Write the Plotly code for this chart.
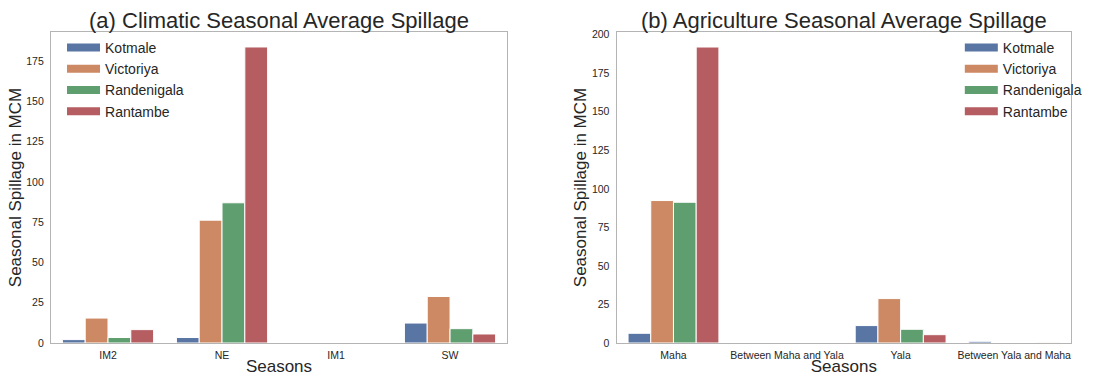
import plotly.graph_objects as go

# Reservoir stations and their bar colours
stations = ["Kotmale", "Victoriya", "Randenigala", "Rantambe"]
colors = ["#5975a4", "#cc8963", "#5f9e6e", "#b55d60"]

# (a) Climatic seasons, average spillage in MCM
climatic_seasons = ["IM2", "NE", "IM1", "SW"]
climatic_kotmale = [2.1, 3.4, 0.0, 12.4]
climatic_victoriya = [15.5, 76.3, 0.0, 28.9]
climatic_randenigala = [3.4, 87.1, 0.0, 8.9]
climatic_rantambe = [8.3, 183.9, 0.0, 5.6]

# (b) Agricultural seasons, average spillage in MCM
agri_seasons = ["Maha", "Between Maha and Yala", "Yala", "Between Yala and Maha"]
agri_kotmale = [6.3, 0.0, 11.3, 1.1]
agri_victoriya = [92.4, 0.0, 28.8, 0.0]
agri_randenigala = [91.3, 0.0, 8.9, 0.0]
agri_rantambe = [192.0, 0.0, 5.4, 0.4]

climatic_values = [climatic_kotmale, climatic_victoriya, climatic_randenigala, climatic_rantambe]
agri_values = [agri_kotmale, agri_victoriya, agri_randenigala, agri_rantambe]

FONT = "Liberation Sans, Arial, sans-serif"
TEXT = "#262626"
SPINE = "#b4b4b4"

fig = go.Figure()

for name, color, vals in zip(stations, colors, climatic_values):
    fig.add_trace(go.Bar(
        x=climatic_seasons, y=vals, name=name, marker_color=color,
        marker_line=dict(color="white", width=1),
        xaxis="x", yaxis="y", showlegend=False, offsetgroup=name,
    ))
for name, color, vals in zip(stations, colors, agri_values):
    fig.add_trace(go.Bar(
        x=agri_seasons, y=vals, name=name, marker_color=color,
        marker_line=dict(color="white", width=1),
        xaxis="x2", yaxis="y2", showlegend=False, offsetgroup=name,
    ))

# Legend entries drawn as wide, flat swatches
for legend_id in ("legend", "legend2"):
    for name, color in zip(stations, colors):
        fig.add_trace(go.Scatter(
            x=[None], y=[None], mode="lines", name=name,
            line=dict(color=color, width=8),
            xaxis="x" if legend_id == "legend" else "x2",
            yaxis="y" if legend_id == "legend" else "y2",
            legend=legend_id, hoverinfo="skip",
        ))

axis_common = dict(
    showline=True, mirror=True, linecolor=SPINE, linewidth=1.3,
    showgrid=False, zeroline=False, ticks="", automargin=False,
    tickfont=dict(family=FONT, size=10.5, color=TEXT),
)
title_font = dict(size=17, family=FONT, color=TEXT)
legend_common = dict(xanchor="left", yanchor="top", itemwidth=33,
                     font=dict(family=FONT, size=14, color=TEXT), bgcolor="rgba(0,0,0,0)")

fig.update_layout(
    template="none",
    width=1099, height=376,
    margin=dict(l=51, r=28, t=32, b=33),
    paper_bgcolor="white", plot_bgcolor="white",
    barmode="group", bargap=0.2, bargroupgap=0.0,
    font=dict(family=FONT, color=TEXT),
    xaxis=dict(domain=[0.0, 0.4471], range=[-0.5, 3.5], anchor="y",
               title=dict(text="Seasons", font=title_font, standoff=0),
               ticklabelstandoff=2, **axis_common),
    yaxis=dict(domain=[0, 1], range=[0, 193.2], anchor="x", tickvals=[0, 25, 50, 75, 100, 125, 150, 175],
               title=dict(text="Seasonal Spillage in MCM", font=title_font, standoff=0),
               ticklabelstandoff=4, **axis_common),
    xaxis2=dict(domain=[0.5546, 1.0], range=[-0.5, 3.5], anchor="y2",
                title=dict(text="Seasons", font=title_font, standoff=0),
                ticklabelstandoff=2, **axis_common),
    yaxis2=dict(domain=[0, 1], range=[0, 201.75], anchor="x2", tickvals=[0, 25, 50, 75, 100, 125, 150, 175, 200],
                title=dict(text="Seasonal Spillage in MCM", font=title_font, standoff=0),
                ticklabelstandoff=4, **axis_common),
    legend=dict(x=0.0108, y=1.0, **legend_common),
    legend2=dict(x=0.891, y=1.0, **legend_common),
    annotations=[
        dict(text="(a) Climatic Seasonal Average Spillage", xref="x domain", yref="paper",
             x=0.5, y=1.038, xanchor="center", yanchor="middle", showarrow=False,
             font=dict(family=FONT, size=22, color=TEXT)),
        dict(text="(b) Agriculture Seasonal Average Spillage", xref="x2 domain", yref="paper",
             x=0.5, y=1.038, xanchor="center", yanchor="middle", showarrow=False,
             font=dict(family=FONT, size=22, color=TEXT)),
    ],
)

fig.write_html("out.html")
